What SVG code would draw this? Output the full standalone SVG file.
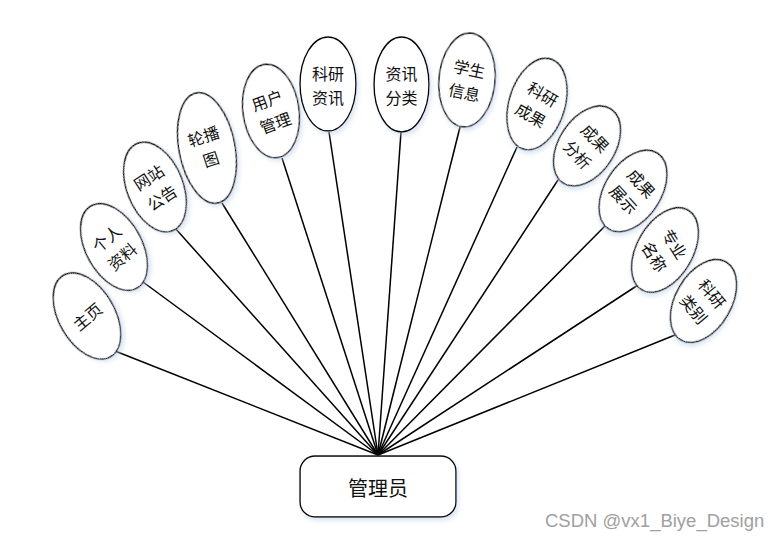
<svg xmlns="http://www.w3.org/2000/svg" width="776" height="538" viewBox="0 0 776 538">
<defs>
<filter id="sh" x="-20%" y="-20%" width="140%" height="140%">
<feDropShadow dx="2" dy="3" stdDeviation="2" flood-color="#b9cde8" flood-opacity="0.5"/>
</filter>
<style>
.el{fill:#fff;stroke:#000;stroke-width:1.4;filter:url(#sh)}
.t{font-family:"Noto Sans CJK SC","Noto Sans",sans-serif;font-size:16px;fill:#111;text-anchor:middle;dominant-baseline:central}
.ln{stroke:#000;stroke-width:1.5;fill:none}
</style>
</defs>
<rect width="776" height="538" fill="#fff"/>
<g id="connectors">
<line class="ln" x1="378" y1="455" x2="115" y2="351"/>
<line class="ln" x1="378" y1="455" x2="143" y2="282"/>
<line class="ln" x1="378" y1="455" x2="175" y2="228"/>
<line class="ln" x1="378" y1="455" x2="222" y2="203"/>
<line class="ln" x1="378" y1="455" x2="282" y2="158"/>
<line class="ln" x1="378" y1="455" x2="329" y2="132"/>
<line class="ln" x1="378" y1="455" x2="401" y2="132"/>
<line class="ln" x1="378" y1="455" x2="460" y2="127"/>
<line class="ln" x1="378" y1="455" x2="517" y2="147"/>
<line class="ln" x1="378" y1="455" x2="558" y2="180"/>
<line class="ln" x1="378" y1="455" x2="605" y2="226"/>
<line class="ln" x1="378" y1="455" x2="638" y2="285"/>
<line class="ln" x1="378" y1="455" x2="675" y2="335"/>
</g>
<g id="n-zhuye"><ellipse class="el" cx="87" cy="316" rx="28" ry="47" transform="rotate(-30 87 316)"/>
<text class="t" transform="translate(87 316) rotate(-40)" x="0" y="0">主页</text></g>
<g id="n-grzl"><ellipse class="el" cx="114" cy="247" rx="28" ry="47" transform="rotate(-29 114 247)"/>
<text class="t" transform="translate(114 247) rotate(-40)"><tspan x="0" y="-12">个人</tspan><tspan x="0" y="12">资料</tspan></text></g>
<g id="n-wzgg"><ellipse class="el" cx="155" cy="187" rx="28" ry="47" transform="rotate(-22 155 187)"/>
<text class="t" transform="translate(155 187) rotate(-33)"><tspan x="0" y="-12">网站</tspan><tspan x="0" y="12">公告</tspan></text></g>
<g id="n-lbt"><ellipse class="el" cx="207" cy="148" rx="28" ry="56" transform="rotate(-11 207 148)"/>
<text class="t" transform="translate(207 147) rotate(-18)"><tspan x="0" y="-12">轮播</tspan><tspan x="0" y="12">图</tspan></text></g>
<g id="n-yhgl"><ellipse class="el" cx="271" cy="111" rx="28" ry="47" transform="rotate(-8 271 111)"/>
<text class="t" transform="translate(271 111) rotate(-20)"><tspan x="0" y="-12">用户</tspan><tspan x="0" y="12">管理</tspan></text></g>
<g id="n-kyzx"><ellipse class="el" cx="328" cy="84" rx="28" ry="47"/>
<text class="t" transform="translate(328 85)"><tspan x="0" y="-12">科研</tspan><tspan x="0" y="12">资讯</tspan></text></g>
<g id="n-zxfl"><ellipse class="el" cx="401.5" cy="84.5" rx="27.5" ry="47.5"/>
<text class="t" transform="translate(401.5 85)"><tspan x="0" y="-12">资讯</tspan><tspan x="0" y="12">分类</tspan></text></g>
<g id="n-xsxx"><ellipse class="el" cx="467" cy="80" rx="28" ry="47" transform="rotate(5 467 80)"/>
<text class="t" transform="translate(467 80) rotate(12)"><tspan x="0" y="-12">学生</tspan><tspan x="0" y="12">信息</tspan></text></g>
<g id="n-kycg"><ellipse class="el" cx="537" cy="104" rx="28" ry="47" transform="rotate(17 537 104)"/>
<text class="t" transform="translate(537 104) rotate(30)"><tspan x="0" y="-12">科研</tspan><tspan x="0" y="12">成果</tspan></text></g>
<g id="n-cgfx"><ellipse class="el" cx="587" cy="146" rx="28" ry="44" transform="rotate(33 587 146)"/>
<text class="t" transform="translate(587 146) rotate(47)"><tspan x="0" y="-12">成果</tspan><tspan x="0" y="12">分析</tspan></text></g>
<g id="n-cgzs"><ellipse class="el" cx="633" cy="191" rx="28" ry="45" transform="rotate(33 633 191)"/>
<text class="t" transform="translate(633 191) rotate(48)"><tspan x="0" y="-12">成果</tspan><tspan x="0" y="12">展示</tspan></text></g>
<g id="n-zymc"><ellipse class="el" cx="665" cy="250" rx="28" ry="46" transform="rotate(30 665 250)"/>
<text class="t" transform="translate(665 250) rotate(58)"><tspan x="0" y="-12">专业</tspan><tspan x="0" y="12">名称</tspan></text></g>
<g id="n-kylb"><ellipse class="el" cx="703.5" cy="301" rx="28" ry="45" transform="rotate(30 703.5 301)"/>
<text class="t" transform="translate(703.5 301) rotate(50)"><tspan x="0" y="-12">科研</tspan><tspan x="0" y="12">类别</tspan></text></g>
<g id="n-admin"><rect x="300" y="456" width="156" height="61" rx="15" ry="15" fill="#fff" stroke="#000" stroke-width="1.4" filter="url(#sh)"/>
<text class="t" x="378" y="487" style="font-size:20px">管理员</text></g>
<text x="545" y="527" font-family="Liberation Sans, Arial, sans-serif" font-size="18.5" fill="#a0a0a0">CSDN @vx1_Biye_Design</text>
</svg>
